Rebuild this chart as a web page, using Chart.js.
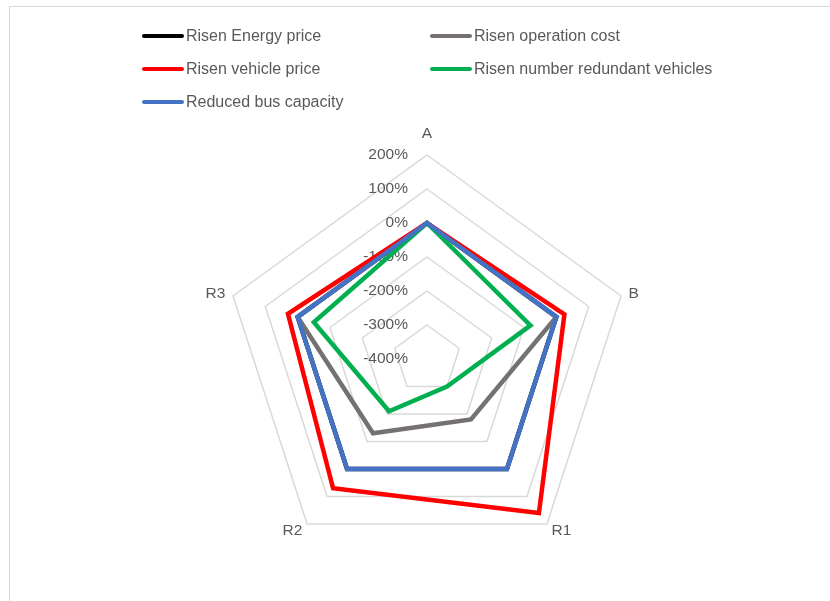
<!DOCTYPE html>
<html>
<head>
<meta charset="utf-8">
<title>Sensitivity radar</title>
<script src="https://cdn.jsdelivr.net/npm/chart.js@4/dist/chart.umd.min.js"></script>
<style>
  html, body { margin: 0; padding: 0; background: #ffffff; }
  body { width: 830px; height: 601px; position: relative; overflow: hidden; font-family: "Liberation Sans", Arial, sans-serif; }
  #frame { position: absolute; left: 9px; top: 6px; right: -10px; bottom: -10px; border-left: 1.5px solid #d9d9d9; border-top: 1.5px solid #d9d9d9; }
  #chart { position: absolute; left: 0; top: 0; }
  .lg { position: absolute; height: 20px; display: flex; align-items: center; font-size: 16px; color: #595959; white-space: nowrap; }
  .lg i { display: inline-block; width: 42px; height: 4.5px; border-radius: 2.25px; margin-right: 2px; }
</style>
</head>
<body>
<div id="frame"></div>
<canvas id="chart" width="830" height="601"></canvas>
<div id="legend"></div>
<script>
// Scenario axes and the percentage change of each scenario per axis
const categories = ['A', 'B', 'R1', 'R2', 'R3'];
const seriesNames = [
  'Risen Energy price',
  'Risen operation cost',
  'Risen vehicle price',
  'Risen number redundant vehicles',
  'Reduced bus capacity'
];
const seriesColors = ['#000000', '#767171', '#ff0000', '#00b050', '#4472c4'];
const energyPrice       = [0, 0, 0, 0, 0];
const operationCost     = [0, 0, -180, -130, 0];
const vehiclePrice      = [0, 25, 160, 70, 30];
const redundantVehicles = [0, -80, -300, -210, -50];
const busCapacity       = [0, 0, 0, 0, 0];
const seriesValues = [energyPrice, operationCost, vehiclePrice, redundantVehicles, busCapacity];
const tickValues = [-400, -300, -200, -100, 0, 100, 200];
const tickLabels = tickValues.map(v => v + '%');

const TEXT = '#595959';
const FONT = '"Liberation Sans", Arial, sans-serif';

// Legend: two columns, filled row by row
const legendPos = [
  [142, 26], [430, 26],
  [142, 59], [430, 59],
  [142, 92]
];
const legend = document.getElementById('legend');
seriesNames.forEach((name, i) => {
  const d = document.createElement('div');
  d.className = 'lg';
  d.style.left = legendPos[i][0] + 'px';
  d.style.top = legendPos[i][1] + 'px';
  const sw = document.createElement('i');
  sw.style.background = seriesColors[i];
  d.appendChild(sw);
  d.appendChild(document.createTextNode(name));
  legend.appendChild(d);
});

// Axis value labels (left of the vertical axis) and category labels
const radarText = {
  id: 'radarText',
  beforeDatasetsDraw(chart) {
    const s = chart.scales.r;
    const ctx = chart.ctx;
    ctx.save();
    ctx.fillStyle = TEXT;
    ctx.font = '15.5px ' + FONT;
    ctx.textAlign = 'right';
    ctx.textBaseline = 'middle';
    tickValues.forEach((v, i) => {
      const d = s.getDistanceFromCenterForValue(v);
      ctx.fillText(tickLabels[i], s.xCenter - 19, s.yCenter - d);
    });
    categories.forEach((c, i) => {
      const p = s.getPointPosition(i, s.drawingArea + 8);
      let y = p.y;
      if (Math.abs(p.x - s.xCenter) < 1) {
        ctx.textAlign = 'center';
        y -= 13;
      } else {
        ctx.textAlign = p.x > s.xCenter ? 'left' : 'right';
      }
      ctx.fillText(c, p.x, y);
    });
    ctx.restore();
  }
};

new Chart(document.getElementById('chart'), {
  type: 'radar',
  data: {
    labels: categories,
    datasets: seriesNames.map((name, i) => ({
      label: name,
      data: seriesValues[i],
      borderColor: seriesColors[i],
      backgroundColor: seriesColors[i],
      borderWidth: 4.5,
      borderJoinStyle: 'miter',
      fill: false,
      pointRadius: 0,
      pointHoverRadius: 0,
      tension: 0,
      order: seriesNames.length - 1 - i
    }))
  },
  options: {
    responsive: false,
    animation: false,
    events: [],
    layout: { padding: { left: 223, right: 199, top: 155, bottom: 38 } },
    plugins: { legend: { display: false }, tooltip: { enabled: false } },
    scales: {
      r: {
        min: -400,
        max: 200,
        afterBuildTicks: s => { s.ticks = tickValues.map(v => ({ value: v })); },
        ticks: { display: false },
        pointLabels: { display: false },
        angleLines: { display: false },
        grid: { color: '#d9d9d9', lineWidth: 1.5 }
      }
    }
  },
  plugins: [radarText]
});
</script>
</body>
</html>
